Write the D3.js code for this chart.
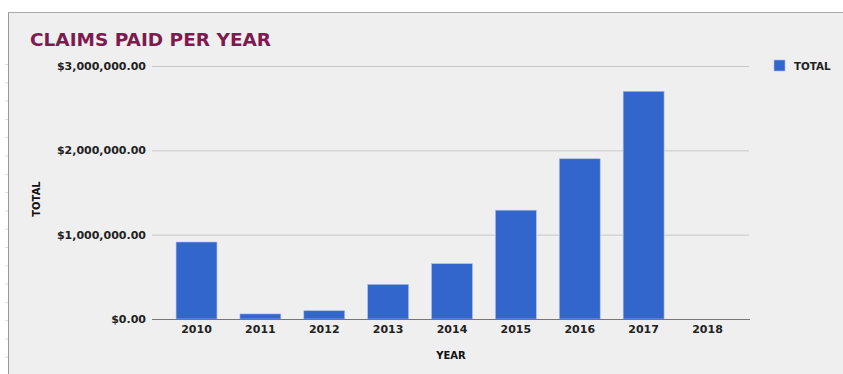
<!DOCTYPE html>
<html>
<head>
<meta charset="utf-8">
<script src="https://cdn.jsdelivr.net/npm/d3@7"></script>
<style>
  body { margin: 0; background: #fff; }
  text { font-family: "DejaVu Sans", Verdana, sans-serif; }
  .tick text { font-size: 11px; font-weight: bold; fill: #222; }
  .axis--y .domain { display: none; }
  .axis--y .tick line { stroke: #c8c8c8; }
  .axis--x .domain { stroke: #777; }
  .axis--x .tick line { display: none; }
</style>
</head>
<body>
<svg width="843" height="374"></svg>
<script>
var years = ["2010","2011","2012","2013","2014","2015","2016","2017","2018"];
var totals = [913000, 60000, 98000, 410000, 656000, 1290000, 1900000, 2700000, 0];
var yTicks = [0, 1000000, 2000000, 3000000];

var svg = d3.select("svg");

// page frame
svg.append("rect").attr("x", 8).attr("y", 12).attr("width", 835).attr("height", 362)
    .attr("fill", "#efefef");
svg.append("line").attr("x1", 8.5).attr("x2", 8.5).attr("y1", 12).attr("y2", 374)
    .attr("stroke", "#999");
svg.append("line").attr("x1", 8).attr("x2", 843).attr("y1", 12.5).attr("y2", 12.5)
    .attr("stroke", "#aaa");
d3.range(0, 20).forEach(function(i){
  svg.append("line").attr("x1", 5).attr("x2", 8).attr("y1", 64.5 + i*18.3).attr("y2", 64.5 + i*18.3)
      .attr("stroke", "#ddd");
});

var margin = {left: 155, right: 94, top: 66, bottom: 55},
    width = 843 - margin.left - margin.right,
    height = 374 - margin.top - margin.bottom;

var x = d3.scaleBand().domain(years).range([0, width]).paddingInner(0.36).paddingOuter(0.33),
    y = d3.scaleLinear().domain([0, 3000000]).range([height, 0]);

var g = svg.append("g")
    .attr("transform", "translate(" + margin.left + "," + margin.top + ")");

g.append("g")
    .attr("class", "axis axis--y")
    .call(d3.axisLeft(y).tickValues(yTicks).tickSize(-width).tickPadding(9)
      .tickFormat(function(d){ return "$" + d3.format(",.2f")(d); }))
    .call(function(a){ a.selectAll(".tick line").attr("x1", -3); });

g.selectAll(".bar").data(totals).enter().append("rect")
    .attr("class", "bar")
    .attr("x", function(d, i){ return x(years[i]); })
    .attr("y", function(d){ return y(d); })
    .attr("width", x.bandwidth())
    .attr("height", function(d){ return height - y(d); })
    .attr("fill", "#3366cc")
    .attr("stroke", "#a9bde6")
    .attr("stroke-width", 0.6);

g.append("g")
    .attr("class", "axis axis--x")
    .attr("transform", "translate(0," + height + ")")
    .call(d3.axisBottom(x).tickSize(0).tickPadding(6))
    .call(function(a){ a.select(".domain").attr("d", "M-3,0.5H" + (width + 1)); });

// titles
svg.append("text").attr("x", 30).attr("y", 46)
    .attr("fill", "#7b1b4f").attr("font-size", "18.5px").attr("font-weight", "bold")
    .text("CLAIMS PAID PER YEAR");

svg.append("text").attr("transform", "translate(40,199) rotate(-90)")
    .attr("text-anchor", "middle").attr("font-size", "10px").attr("font-weight", "bold")
    .attr("fill", "#111").text("TOTAL");

svg.append("text").attr("x", 451).attr("y", 359)
    .attr("text-anchor", "middle").attr("font-size", "10px").attr("font-weight", "bold")
    .attr("fill", "#111").text("YEAR");

// legend
svg.append("rect").attr("x", 774).attr("y", 60).attr("width", 11).attr("height", 11)
    .attr("fill", "#3366cc").attr("stroke", "#a9bde6").attr("stroke-width", 0.6);
svg.append("text").attr("x", 794).attr("y", 70)
    .attr("font-size", "10.3px").attr("font-weight", "bold").attr("fill", "#222")
    .text("TOTAL");
</script>
</body>
</html>
